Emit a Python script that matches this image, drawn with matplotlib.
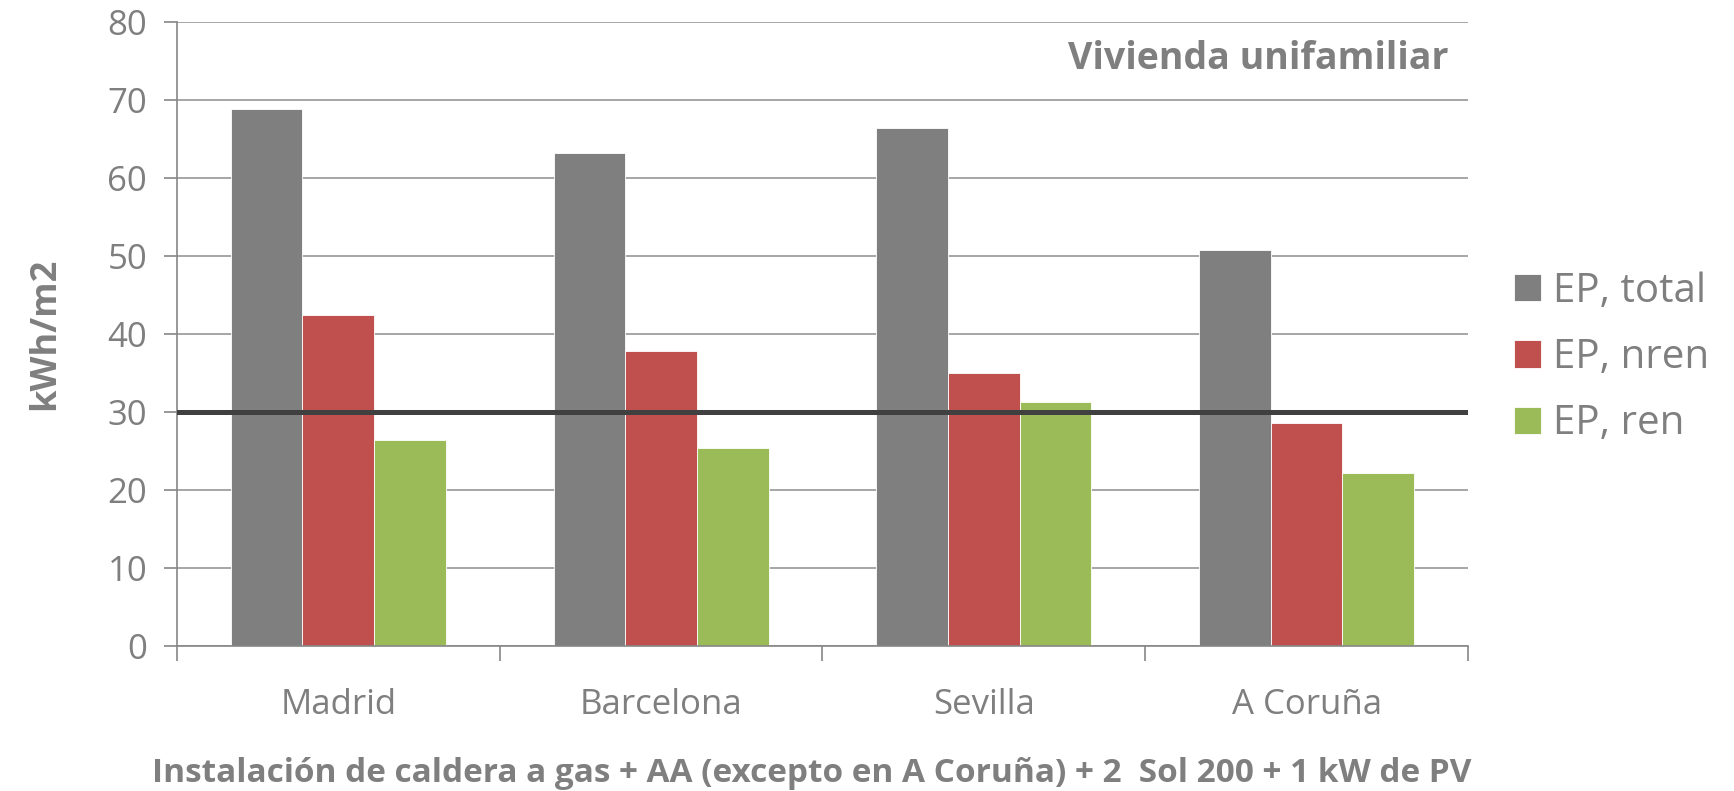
import matplotlib
matplotlib.use("Agg")
import matplotlib.pyplot as plt
import numpy as np

categories = ["Madrid", "Barcelona", "Sevilla", "A Coruña"]
series_names = ["EP, total", "EP, nren", "EP, ren"]
ep_total = [68.9, 63.2, 66.4, 50.8]
ep_nren = [42.5, 37.8, 35.0, 28.6]
ep_ren = [26.4, 25.4, 31.3, 22.2]
reference_value = 30
yticks = [0, 10, 20, 30, 40, 50, 60, 70, 80]
title_text = "Vivienda unifamiliar"
ylabel_text = "kWh/m2"
xlabel_text = "Instalación de caldera a gas + AA (excepto en A Coruña) + 2  Sol 200 + 1 kW de PV"

colors = ["#7f7f7f", "#c0504d", "#9bbb59"]
txt = "#7f7f7f"

plt.rcParams['font.family'] = ['Open Sans', 'DejaVu Sans']

fig = plt.figure(figsize=(17.34, 7.91), dpi=100)
ax = fig.add_axes([0.102, 0.183, 0.7446, 0.789])

x = np.arange(len(categories))
w = 0.222
for i, (vals, name) in enumerate(zip([ep_total, ep_nren, ep_ren], series_names)):
    ax.bar(x + (i - 1) * w, vals, width=w, color=colors[i], label=name,
           edgecolor="white", linewidth=0.6, zorder=2)

ax.axhline(reference_value, color="#404040", linewidth=3.6, zorder=3)

ax.set_xlim(-0.5, len(categories) - 0.5)
ax.set_ylim(0, 80)
ax.set_yticks(yticks)
ax.yaxis.grid(True, color="#a6a6a6", linewidth=1.4, zorder=0)
ax.set_axisbelow(True)

ax.set_xticks(x)
ax.set_xticklabels(categories, fontsize=25, color=txt)
ax.set_xticks(np.arange(-0.5, len(categories) + 0.5, 1), minor=True)
ax.tick_params(axis='x', which='major', length=0, pad=30)
ax.tick_params(axis='x', which='minor', length=11, width=1.2, color="#868686")
ax.tick_params(axis='y', length=9.4, width=1.2, color="#868686", labelsize=25,
               labelcolor=txt, pad=12)

for s in ["top", "right"]:
    ax.spines[s].set_visible(False)
for s in ["left", "bottom"]:
    ax.spines[s].set_color("#868686")
    ax.spines[s].set_linewidth(1.2)

ax.text(0.985, 0.941, title_text, transform=ax.transAxes, ha="right", va="center",
        fontsize=27, fontweight="bold", color=txt)
ax.set_ylabel(ylabel_text, fontsize=26, fontweight="bold", color=txt)
ax.yaxis.set_label_coords(-0.088, 0.5)
fig.text(0.468, 0.011, xlabel_text, ha="center", va="baseline", fontsize=24,
         fontweight="bold", color=txt)

leg = ax.legend(loc="center left", bbox_to_anchor=(1.036, 0.462), frameon=False,
                fontsize=29, labelcolor=txt, handlelength=0.67, handleheight=0.67,
                handletextpad=0.28, labelspacing=0.64, borderaxespad=0, borderpad=0)

fig.savefig("out.png", dpi=100)
